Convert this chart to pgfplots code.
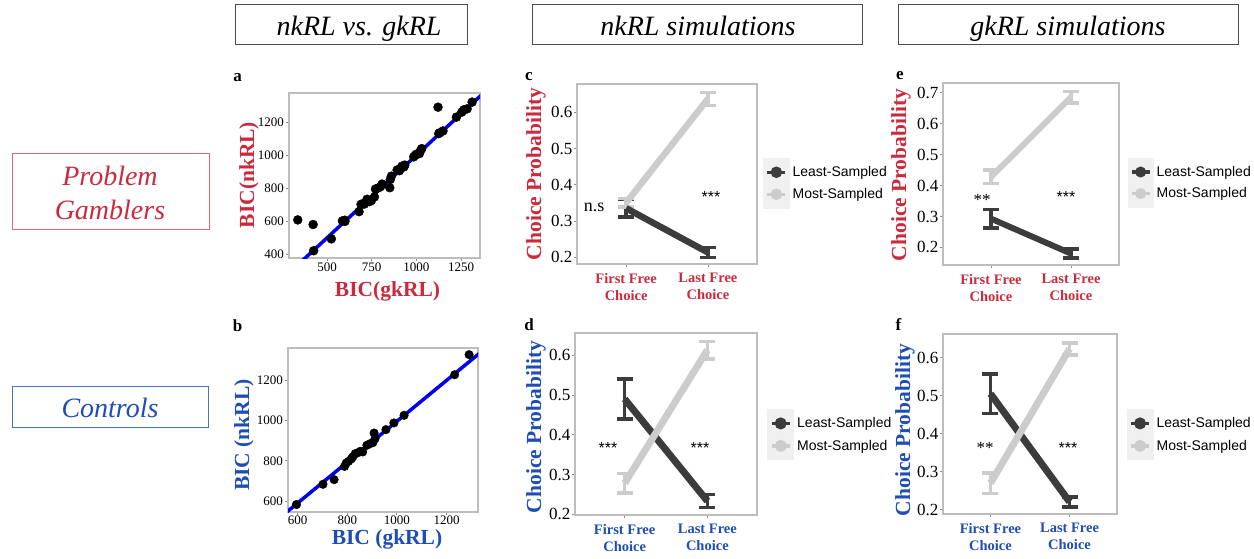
\documentclass[border=0pt]{standalone}
\usepackage{fontspec}
\setmainfont{Liberation Serif}
\newfontfamily\arial{Liberation Sans}
\usepackage{pgfplots}
\pgfplotsset{compat=1.18}
\definecolor{pgred}{HTML}{CC2A3C}
\definecolor{ctblue}{HTML}{1E4DB4}
\definecolor{bline}{HTML}{0000F0}
\definecolor{dk}{HTML}{3C3C3C}
\definecolor{lt}{HTML}{CCCCCC}
\definecolor{frm}{HTML}{BDBDBD}

\pgfplotsset{
  gg/.style={scale only axis, axis line style={draw=frm, line width=1.2pt},
    tick align=outside, major tick length=3pt, tick style={draw=black!45, line width=0.8pt},
    tick pos=left, /pgf/number format/assume math mode=true, /pgf/number format/1000 sep={}},
  sc/.style={gg, tick label style={font=\fontsize{13}{15}\selectfont},
    yticklabel style={inner sep=2pt}, xticklabel style={inner sep=2pt}},
  ch/.style={gg, xmin=0.4, xmax=2.6, xtick={1,2},
    xticklabels={{First Free\\Choice},{Last Free\\Choice}},
    xticklabel style={align=center, text=#1, inner sep=0pt, yshift=-6pt,
      font=\bfseries\fontsize{14.5}{17}\selectfont},
    yticklabel style={font=\fontsize{17}{19}\selectfont, inner sep=1.5pt},
    legend cell align=left,
    legend style={draw=none, fill=none, inner sep=0pt, anchor=north west,
      font=\arial\fontsize{14}{17}\selectfont, nodes={inner sep=0pt}, row sep=-6.5pt,
      /tikz/every odd column/.append style={column sep=3pt}},
    legend image code/.code={
      \fill[black!6] (0pt,-11pt) rectangle (20pt,11pt);
      \draw[##1, line width=3.5pt] (1pt,0pt) -- (19pt,0pt);
      \fill[##1] (10pt,0pt) circle (2.3pt);}},
  eb/.style={forget plot, draw=none, mark=none, error bars/.cd, y dir=both, y explicit,
    error bar style={line width=3.5pt, draw=#1},
    error mark options={rotate=90, mark size=8pt, line width=3.5pt, draw=#1}},
}

\begin{document}
\begin{tikzpicture}[x=1pt,y=-1pt]
\path[use as bounding box] (0,0) rectangle (1254,558);

% header boxes
\draw[black!70, line width=0.9pt] (235,4) rectangle (467,44);
\node[anchor=base, font=\itshape\fontsize{28}{32}\selectfont] at (359,35) {nkRL vs. gkRL};
\draw[black!70, line width=0.9pt] (532,4) rectangle (862,44);
\node[anchor=base, font=\itshape\fontsize{28}{32}\selectfont] at (698,35) {nkRL simulations};
\draw[black!70, line width=0.9pt] (898,4) rectangle (1238,44);
\node[anchor=base, font=\itshape\fontsize{28}{32}\selectfont] at (1068,35) {gkRL simulations};

% group boxes
\draw[pgred!70, line width=0.9pt] (12,153) rectangle (209,229);
\node[anchor=base, text=pgred, font=\itshape\fontsize{28}{32}\selectfont] at (110,185) {Problem};
\node[anchor=base, text=pgred, font=\itshape\fontsize{28}{32}\selectfont] at (110,219) {Gamblers};
\draw[ctblue!80, line width=0.9pt] (12,386) rectangle (208,427);
\node[anchor=base, text=ctblue, font=\itshape\fontsize{28}{32}\selectfont] at (110,417) {Controls};

% panel letters
\begin{scope}[font=\bfseries\fontsize{17}{19}\selectfont]
\node[anchor=base] at (237.5,81) {a};
\node[anchor=base] at (237.5,331) {b};
\node[anchor=base] at (529,80) {c};
\node[anchor=base] at (529,330) {d};
\node[anchor=base] at (900,79) {e};
\node[anchor=base] at (898.5,330) {f};
\end{scope}

% ---- panel a
\begin{axis}[sc, at={(289pt,-258pt)}, anchor=south west, width=191pt, height=165pt,
  xmin=287, xmax=1356, ymin=376, ymax=1376,
  xtick={500,750,1000,1250}, ytick={400,600,800,1000,1200}]
\addplot[bline, line width=3.5pt] coordinates {(300,298) (1400,1400)};
\addplot[only marks, mark=*, mark size=4.5pt, black] coordinates {
 (336,607) (422,579) (425,420) (524,492) (586,601) (599,605) (600,598) (679,657)
 (690,701) (700,705) (709,703) (724,732) (737,718) (748,724) (765,746) (771,794)
 (785,800) (799,808) (808,824) (851,802) (854,852) (860,872) (892,909) (905,905)
 (910,919) (920,933) (930,928) (935,939) (985,989) (994,999) (1000,1005) (1017,1009)
 (1024,1029) (1030,1039) (1121,1290) (1125,1130) (1130,1135) (1149,1146) (1224,1230)
 (1254,1260) (1265,1274) (1284,1280) (1312,1321)};
\end{axis}
\node[rotate=90, anchor=base, text=pgred, font=\bfseries\fontsize{21.5}{24}\selectfont] at (254,175) {BIC(nkRL)};
\node[anchor=base, text=pgred, font=\bfseries\fontsize{21.5}{24}\selectfont] at (387.5,296) {BIC(gkRL)};

% ---- panel b
\begin{axis}[sc, at={(288pt,-512pt)}, anchor=south west, width=190pt, height=164pt,
  xmin=561, xmax=1327, ymin=545, ymax=1361, xticklabel style={inner sep=1pt},
  xtick={600,800,1000,1200}, ytick={600,800,1000,1200}]
\addplot[bline, line width=3.5pt] coordinates {(500,488) (1400,1403)};
\addplot[only marks, mark=*, mark size=4.3pt, black] coordinates {
 (595,582) (702,683) (747,706) (789,772) (796,789) (805,797) (816,809) (822,819)
 (832,835) (841,839) (852,847) (862,844) (879,877) (892,885) (903,890) (908,938)
 (912,910) (956,955) (988,988) (1029,1026) (1233,1228) (1291,1328)};
\end{axis}
\node[rotate=90, anchor=base, text=ctblue, font=\bfseries\fontsize{21.5}{24}\selectfont] at (249,435) {BIC (nkRL)};
\node[anchor=base, text=ctblue, font=\bfseries\fontsize{21.5}{24}\selectfont] at (387,544) {BIC (gkRL)};

% ---- panel c
\begin{axis}[ch=pgred, at={(577pt,-264pt)}, anchor=south west, width=180pt, height=180pt,
  ymin=0.181, ymax=0.678, ytick={0.2,0.3,0.4,0.5,0.6},
  legend style={at={(rel axis cs:1.033,0.590)}}]
\addplot[eb=dk] coordinates {(1,0.335) +- (0,0.024) (2,0.213) +- (0,0.014)};
\addplot[eb=lt] coordinates {(1,0.350) +- (0,0.012) (2,0.637) +- (0,0.018)};
\addplot[dk, line width=6.5pt] coordinates {(1,0.335) (2,0.213)};
\addplot[lt, line width=6.5pt] coordinates {(1,0.350) (2,0.637)};
\legend{Least-Sampled, Most-Sampled}
\end{axis}
\node[rotate=90, anchor=base, text=pgred, font=\bfseries\fontsize{21.5}{24}\selectfont] at (541,174) {Choice Probability};
\node[anchor=base, font=\fontsize{18}{20}\selectfont] at (594,211) {n.s};
\node[anchor=base, font=\arial\fontsize{16}{18}\selectfont] at (711,202) {***};

% ---- panel d
\begin{axis}[ch=ctblue, at={(575pt,-515pt)}, anchor=south west, width=182pt, height=182pt,
  ymin=0.198, ymax=0.656, ytick={0.2,0.3,0.4,0.5,0.6},
  legend style={at={(rel axis cs:1.055,0.584)}}]
\addplot[eb=dk] coordinates {(1,0.490) +- (0,0.050) (2,0.233) +- (0,0.016)};
\addplot[eb=lt] coordinates {(1,0.278) +- (0,0.025) (2,0.613) +- (0,0.022)};
\addplot[dk, line width=7pt] coordinates {(1,0.490) (2,0.233)};
\addplot[lt, line width=7pt] coordinates {(1,0.278) (2,0.613)};
\legend{Least-Sampled, Most-Sampled}
\end{axis}
\node[rotate=90, anchor=base, text=ctblue, font=\bfseries\fontsize{21.5}{24}\selectfont] at (541,427) {Choice Probability};
\node[anchor=base, font=\arial\fontsize{16}{18}\selectfont] at (608,453) {***};
\node[anchor=base, font=\arial\fontsize{16}{18}\selectfont] at (700,453) {***};

% ---- panel e
\begin{axis}[ch=pgred, at={(943pt,-265pt)}, anchor=south west, width=176pt, height=182pt,
  ymin=0.143, ymax=0.732, ytick={0.2,0.3,0.4,0.5,0.6,0.7},
  legend style={at={(rel axis cs:1.048,0.589)}}]
\addplot[eb=dk] coordinates {(1,0.293) +- (0,0.030) (2,0.180) +- (0,0.014)};
\addplot[eb=lt] coordinates {(1,0.428) +- (0,0.022) (2,0.686) +- (0,0.018)};
\addplot[dk, line width=6pt] coordinates {(1,0.293) (2,0.180)};
\addplot[lt, line width=6pt] coordinates {(1,0.428) (2,0.686)};
\legend{Least-Sampled, Most-Sampled}
\end{axis}
\node[rotate=90, anchor=base, text=pgred, font=\bfseries\fontsize{21.5}{24}\selectfont] at (906,175) {Choice Probability};
\node[anchor=base, font=\fontsize{17}{19}\selectfont] at (982,205) {**};
\node[anchor=base, font=\arial\fontsize{16}{18}\selectfont] at (1066,202) {***};

% ---- panel f
\begin{axis}[ch=ctblue, at={(943pt,-514pt)}, anchor=south west, width=174pt, height=180pt,
  ymin=0.189, ymax=0.662, ytick={0.2,0.3,0.4,0.5,0.6},
  legend style={at={(rel axis cs:1.054,0.585)}}]
\addplot[eb=dk] coordinates {(1,0.505) +- (0,0.052) (2,0.221) +- (0,0.013)};
\addplot[eb=lt] coordinates {(1,0.270) +- (0,0.027) (2,0.623) +- (0,0.016)};
\addplot[dk, line width=7pt] coordinates {(1,0.505) (2,0.221)};
\addplot[lt, line width=7pt] coordinates {(1,0.270) (2,0.623)};
\legend{Least-Sampled, Most-Sampled}
\end{axis}
\node[rotate=90, anchor=base, text=ctblue, font=\bfseries\fontsize{21.5}{24}\selectfont] at (910,430) {Choice Probability};
\node[anchor=base, font=\fontsize{17}{19}\selectfont] at (985,453) {**};
\node[anchor=base, font=\arial\fontsize{16}{18}\selectfont] at (1068,453) {***};
\end{tikzpicture}
\end{document}
